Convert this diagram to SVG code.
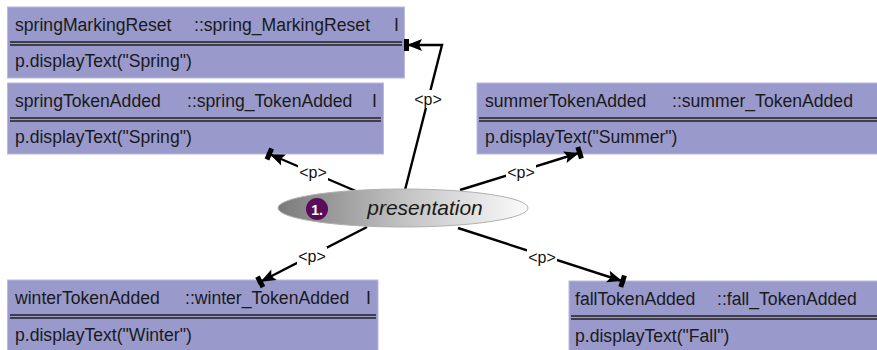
<svg xmlns="http://www.w3.org/2000/svg" width="877" height="350" viewBox="0 0 877 350">
<defs>
<linearGradient id="eg" x1="0" y1="0" x2="1" y2="0">
<stop offset="0" stop-color="#7a7a7a"/>
<stop offset="0.5" stop-color="#c2c2c2"/>
<stop offset="1" stop-color="#fbfbfb"/>
</linearGradient>
<marker id="ah" markerUnits="userSpaceOnUse" markerWidth="24" markerHeight="16" viewBox="-20 -8 24 16" refX="0" refY="0" orient="auto" overflow="visible">
<path d="M-3,0 L-18,-6 L-15,0 L-18,6 Z" fill="#000"/>
<rect x="-5" y="-6" width="5" height="12" fill="#000"/>
</marker>
</defs>
<style>
.box{fill:#9999cc;stroke:#b9b9e2;stroke-width:1}
.sep{stroke:#222;stroke-width:1.6}
.t{font-family:"Liberation Sans",Arial,sans-serif;font-size:17.6px;fill:#1a1a1a}
.lbl{font-family:"Liberation Sans",Arial,sans-serif;font-size:16px;fill:#111;text-anchor:middle}
.lbg{fill:#fff}
.c{fill:none;stroke:#000;stroke-width:2.4}
</style>
<g id="springMarkingReset">
<rect class="box" x="7.5" y="7" width="397" height="71"/>
<line class="sep" x1="10" y1="42" x2="402" y2="42"/>
<line class="sep" x1="10" y1="45" x2="402" y2="45"/>
<text class="t" x="15" y="31">springMarkingReset</text>
<text class="t" x="194" y="31">::spring_MarkingReset</text>
<text class="t" x="394" y="31">I</text>
<text class="t" x="15" y="67">p.displayText("Spring")</text>
</g>
<g id="springTokenAdded">
<rect class="box" x="7.5" y="83" width="376" height="71"/>
<line class="sep" x1="10" y1="118" x2="381" y2="118"/>
<line class="sep" x1="10" y1="121" x2="381" y2="121"/>
<text class="t" x="15" y="107">springTokenAdded</text>
<text class="t" x="187" y="107">::spring_TokenAdded</text>
<text class="t" x="372" y="107">I</text>
<text class="t" x="15" y="143">p.displayText("Spring")</text>
</g>
<g id="summerTokenAdded">
<rect class="box" x="477" y="83" width="410" height="71"/>
<line class="sep" x1="479" y1="118" x2="877" y2="118"/>
<line class="sep" x1="479" y1="121" x2="877" y2="121"/>
<text class="t" x="485" y="107">summerTokenAdded</text>
<text class="t" x="672" y="107">::summer_TokenAdded</text>
<text class="t" x="485" y="143">p.displayText("Summer")</text>
</g>
<g id="winterTokenAdded">
<rect class="box" x="7.5" y="280" width="370.5" height="80"/>
<line class="sep" x1="10" y1="315" x2="376" y2="315"/>
<line class="sep" x1="10" y1="318" x2="376" y2="318"/>
<text class="t" x="15" y="304">winterTokenAdded</text>
<text class="t" x="185" y="304">::winter_TokenAdded</text>
<text class="t" x="366" y="304">I</text>
<text class="t" x="15" y="341">p.displayText("Winter")</text>
</g>
<g id="fallTokenAdded">
<rect class="box" x="569" y="281" width="320" height="80"/>
<line class="sep" x1="571" y1="316" x2="877" y2="316"/>
<line class="sep" x1="571" y1="319" x2="877" y2="319"/>
<text class="t" x="575" y="305">fallTokenAdded</text>
<text class="t" x="717" y="305">::fall_TokenAdded</text>
<text class="t" x="575" y="342">p.displayText("Fall")</text>
</g>
<g id="connectors">
<path class="c" d="M405,190 L442,45 L404,45" marker-end="url(#ah)"/>
<path class="c" d="M358,192 L267,153" marker-end="url(#ah)"/>
<path class="c" d="M460,190 L582,152" marker-end="url(#ah)"/>
<path class="c" d="M367,227 L258,283" marker-end="url(#ah)"/>
<path class="c" d="M458,228 L625,282" marker-end="url(#ah)"/>
<rect class="lbg" x="413" y="90" width="30" height="18"/>
<text class="lbl" x="428" y="105">&lt;p&gt;</text>
<rect class="lbg" x="298" y="163" width="30" height="18"/>
<text class="lbl" x="313" y="178">&lt;p&gt;</text>
<rect class="lbg" x="506" y="163" width="30" height="18"/>
<text class="lbl" x="521" y="178">&lt;p&gt;</text>
<rect class="lbg" x="297" y="247" width="30" height="18"/>
<text class="lbl" x="312" y="262">&lt;p&gt;</text>
<rect class="lbg" x="527" y="248" width="30" height="18"/>
<text class="lbl" x="542" y="263">&lt;p&gt;</text>
</g>
<g id="presentation">
<ellipse cx="403" cy="208" rx="125" ry="19" fill="url(#eg)" stroke="#b0b0b0" stroke-width="1"/>
<circle cx="317" cy="209" r="11" fill="#5a0b5a"/>
<text x="317" y="214.5" font-family="Liberation Sans, Arial, sans-serif" font-size="14" font-weight="bold" fill="#fff" text-anchor="middle">1.</text>
<text x="425" y="215" font-family="Liberation Sans, Arial, sans-serif" font-size="21" font-style="italic" fill="#1a1a1a" text-anchor="middle">presentation</text>
</g>
</svg>
